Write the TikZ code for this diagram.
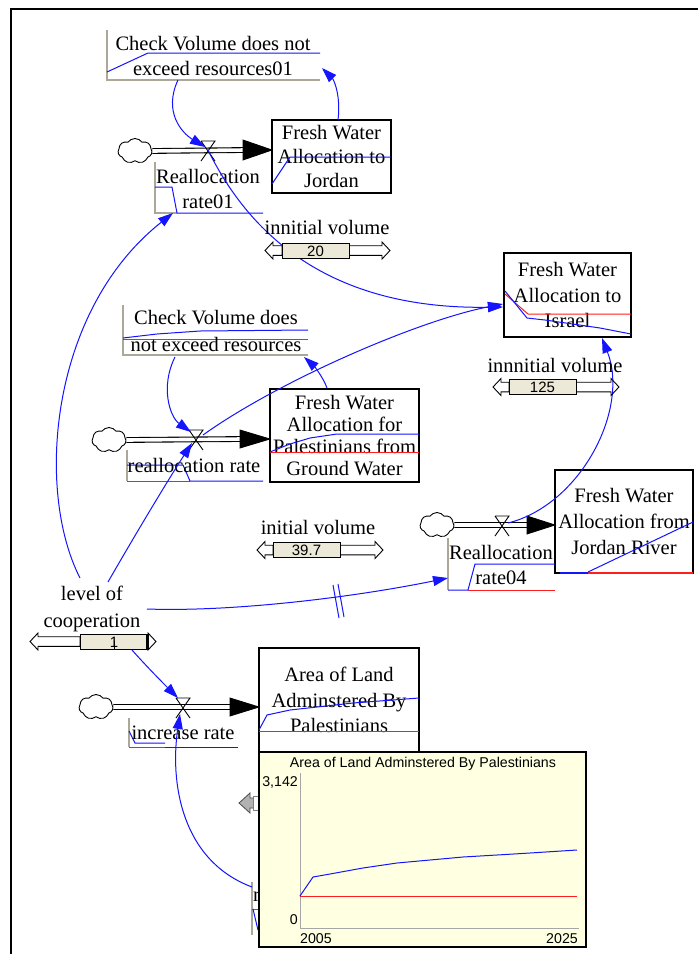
\documentclass[tikz,border=0pt]{standalone}
\usepackage{fontspec}
\setmainfont{Liberation Serif}
\newfontfamily\chartfont{Liberation Sans}
\usetikzlibrary{arrows.meta,shapes.symbols}
\definecolor{lnkblue}{RGB}{20,20,255}
\definecolor{grred}{RGB}{255,30,30}
\definecolor{auxgray}{RGB}{172,168,153}
\definecolor{slfill}{RGB}{236,233,216}
\definecolor{chartbg}{RGB}{255,255,225}
% #1 name, #2 left tip x, #3 bar left, #4 bar right, #5 right tip x, #6 y, #7 value
\newcommand\mkslider[7]{%
  \draw[sliderline] (#2,#6) -- (#2+8,#6-8.5) -- (#2+8,#6-4.8) -- (#3,#6-4.8) -- (#3,#6+4.8) -- (#2+8,#6+4.8) -- (#2+8,#6+8.5) -- cycle;
  \draw[sliderline] (#5,#6) -- (#5-8,#6-8.5) -- (#5-8,#6-4.8) -- (#4,#6-4.8) -- (#4,#6+4.8) -- (#5-8,#6+4.8) -- (#5-8,#6+8.5) -- cycle;
  \draw[sliderline, fill=slfill] (#3,#6-7.5) rectangle (#4,#6+7.5);
  \node[slval] (#1) at ({(#3+#4)/2},#6+0.5) {#7};
}
\begin{document}
\begin{tikzpicture}[x=1pt,y=-1pt,
  lbl/.style={align=center, inner sep=0pt, font=\fontsize{20.5}{25}\selectfont},
  slval/.style={inner sep=0pt, font=\chartfont\fontsize{15}{15}\selectfont},
  chtxt/.style={inner sep=0pt, font=\chartfont\fontsize{14.2}{14}\selectfont},
  link/.style={draw=lnkblue, line width=1pt, -{Triangle[length=15pt,width=10pt]}},
  bgr/.style={draw=lnkblue, line width=1pt},
  rgr/.style={draw=grred, line width=1pt},
  auxedge/.style={draw=auxgray, line width=1.3pt},
  stockbox/.style={draw=black, line width=1.5pt},
  pipe/.style={draw=black, double=white, double distance=3.6pt, line width=1.1pt},
  flowhead/.style={fill=black, draw=black, line width=0.8pt},
  valvesty/.style={draw=black, line width=0.9pt},
  cloudn/.style={cloud, cloud puffs=7, cloud puff arc=110, aspect=1.35, draw=black, line width=0.9pt, minimum width=34pt, minimum height=25pt, inner sep=0pt},
  sliderline/.style={draw=black, line width=0.9pt},
]
\useasboundingbox (0,0) rectangle (700,954);
\fill[white] (0,0) rectangle (700,954);
\draw[line width=2pt] (11,954) -- (11,9) -- (698,9);

% ---------- valves (coordinates)
\coordinate (v1) at (208,150);
\coordinate (v2) at (196,439);
\coordinate (v3) at (183,707);
\coordinate (v4) at (502,525);

% ---------- Check Volume 01
\draw[auxedge] (107,30) -- (107,80) -- (320,80);
\draw[bgr] (107,72) -- (148,53) -- (320,53);
\node[lbl] (cv1) at (213,55.5) {Check Volume does not\\exceed resources01};

% ---------- Reallocation rate01
\draw[auxedge] (155,162) -- (155,213) -- (177,213);
\draw[bgr] (155,187) -- (172,187) -- (177,213) -- (263,213);
\node[lbl] (r01) at (208,188.5) {Reallocation\\rate01};

% ---------- Jordan stock
\node[stockbox, minimum width=119pt, minimum height=73pt, lbl, font=\fontsize{20.5}{24}\selectfont] (jordan) at (331.5,156.5) {Fresh Water\\Allocation to\\Jordan};
\draw[bgr] (272,184) -- (290,157) -- (391,157);

% ---------- flow 1
\node[cloudn] (c1) at (135,151) {};
\coordinate (h1) at (272,150);
\draw[pipe] (c1.east) -- (245,150);
\draw[flowhead] (243,140) -- (h1) -- (243,160) -- cycle;
\draw[valvesty] ([shift={(-7,-9)}]v1) -- ([shift={(7,-9)}]v1) -- ([shift={(-7,11)}]v1) ([shift={(-7,-9)}]v1) -- ([shift={(7,11)}]v1);

% ---------- Israel stock
\node[stockbox, minimum width=127pt, minimum height=84pt, lbl, font=\fontsize{20.5}{25.5}\selectfont] (israel) at (567.5,295) {Fresh Water\\Allocation to\\Israel};
\draw[rgr] (505,294) -- (528,314) -- (631,314);
\draw[bgr] (505,291) -- (527,318) -- (545,320) -- (600,328) -- (631,334);

% ---------- Palestinians stock
\node[stockbox, minimum width=149pt, minimum height=93pt, lbl, font=\fontsize{20.5}{21.7}\selectfont] (pal) at (344.5,435.5) {Fresh Water\\Allocation for\\Palestinians from\\Ground Water};
\draw[rgr] (270,452) -- (419,452);
\draw[bgr] (270,452) -- (290,444) -- (310,438) -- (337,434) -- (419,434);

% ---------- Check Volume 2
\draw[auxedge] (123,305) -- (123,355) -- (308,355);
\draw[rgr] (123,339) -- (308,339);
\draw[bgr] (123,338) -- (157,334) -- (200,331) -- (308,330);
\node[lbl, font=\fontsize{20.5}{27}\selectfont] (cv2) at (216,330.5) {Check Volume does\\not exceed resources};

% ---------- flow 2
\node[cloudn] (c2) at (109,440) {};
\coordinate (h2) at (270,439);
\draw[pipe] (c2.east) -- (242,439);
\draw[flowhead] (240,430) -- (h2) -- (240,448) -- cycle;
\draw[valvesty] ([shift={(-7,-9)}]v2) -- ([shift={(7,-9)}]v2) -- ([shift={(-7,11)}]v2) ([shift={(-7,-9)}]v2) -- ([shift={(7,11)}]v2);

% ---------- reallocation rate
\draw[auxedge] (127,450) -- (127,481);
\draw[rgr] (127,481) -- (190,481);
\draw[bgr] (127,465) -- (183,465) -- (190,481) -- (263,481);
\node[lbl] (rr) at (194,465) {reallocation rate};

% ---------- flow 4
\node[cloudn] (c4) at (437,525) {};
\coordinate (h4) at (555,525);
\draw[pipe] (c4.east) -- (529,525);
\draw[flowhead] (527,516) -- (h4) -- (527,534) -- cycle;
\draw[valvesty] ([shift={(-7,-9)}]v4) -- ([shift={(7,-9)}]v4) -- ([shift={(-7,11)}]v4) ([shift={(-7,-9)}]v4) -- ([shift={(7,11)}]v4);

% ---------- Jordan River stock
\node[stockbox, minimum width=138pt, minimum height=103pt, lbl, font=\fontsize{20.5}{26}\selectfont] (jriv) at (624,521.5) {Fresh Water\\Allocation from\\Jordan River};
\draw[rgr, line width=1.5pt] (560,573) -- (693,573);
\draw[bgr, line width=1.5pt] (560,573) -- (588,573);
\draw[bgr] (588,572) -- (693,522);

% ---------- rate04
\draw[auxedge] (448,538) -- (448,590);
\draw[rgr] (468,590) -- (555,590);
\draw[bgr] (448,590) -- (468,590) -- (475,564) -- (555,564);
\node[lbl] (r04) at (501,564.5) {Reallocation\\rate04};

% ---------- flow 3
\node[cloudn] (c3) at (96,707) {};
\coordinate (h3) at (259,707);
\draw[pipe] (c3.east) -- (232,707);
\draw[flowhead] (230,698) -- (h3) -- (230,716) -- cycle;
\draw[valvesty] ([shift={(-7,-9)}]v3) -- ([shift={(7,-9)}]v3) -- ([shift={(-7,11)}]v3) ([shift={(-7,-9)}]v3) -- ([shift={(7,11)}]v3);

% ---------- Area stock
\node[stockbox, minimum width=160pt, minimum height=104pt, lbl, font=\fontsize{20.5}{25.5}\selectfont] (area) at (339,700) {Area of Land\\Adminstered By\\Palestinians};
\draw[rgr] (259,731) -- (419,731);
\draw[bgr] (259,730) -- (267,715) -- (290,710) -- (353,703) -- (419,698);

% ---------- increase rate
\draw[auxedge] (129,718) -- (129,747);
\draw[rgr] (129,747) -- (165,747);
\draw[bgr] (129,731) -- (135,743) -- (165,743);
\draw[bgr] (165,747) -- (238,747);
\node[lbl] (ir) at (183,733) {increase rate};

% ---------- hidden variable behind chart
\draw[auxedge] (252,882) -- (252,935);
\node[lbl, anchor=west] (hid) at (253,897) {r};
\draw[rgr] (252,909) -- (260,909);
\draw[bgr] (253,909) -- (258,930);

% ---------- links
\coordinate (cv1out) at (178,80);
\coordinate (v1in) at (205,147);
\coordinate (jtop) at (338,120);
\coordinate (cv1in) at (322,68);
\coordinate (isl) at (503,307);
\coordinate (isl2) at (503,304);
\coordinate (isb) at (602,338);
\coordinate (v2out) at (203,435);
\coordinate (cv2out) at (175,357);
\coordinate (v2in) at (191,432);
\coordinate (paltop) at (327,388);
\coordinate (cv2in) at (304,357);
\coordinate (loca) at (80,578);
\coordinate (locb) at (108,582);
\coordinate (locc) at (147,609);
\coordinate (r01in) at (173,213);
\coordinate (v2low) at (192,443);
\coordinate (r04in) at (448,578);
\coordinate (s1out) at (132,650);
\coordinate (v3in) at (178,698);
\coordinate (hidout) at (252,887);
\coordinate (v3low) at (180,714);
\coordinate (v4out) at (508,523);

\draw[link] (cv1out) .. controls (163,112) and (182,133) .. (v1in);
\draw[link] (jtop) .. controls (341,96) and (334,80) .. (cv1in);
\draw[link] (v1) .. controls (245,225) and (320,310) .. (isl);
\draw[link] (v2out) .. controls (280,380) and (420,320) .. (isl2);
\draw[link] (cv2out) .. controls (160,387) and (170,417) .. (v2in);
\draw[link] (paltop) .. controls (323,377) and (314,366) .. (cv2in);
\draw[link] (loca) .. controls (35,490) and (50,310) .. (r01in);
\draw[link] (locb) .. controls (135,535) and (168,480) .. (v2low);
\draw[link] (locc) .. controls (230,612) and (350,598) .. (r04in);
\draw[bgr] (333,585) -- (339,618) (338,584) -- (344,617);
\draw[link] (s1out) .. controls (148,668) and (165,685) .. (v3in);
\draw[link] (hidout) .. controls (180,860) and (170,780) .. (v3low);
\draw[link] (v4out) .. controls (580,505) and (630,410) .. (isb);

% ---------- sliders and their labels
\node[lbl] (iv20) at (327,227) {innitial volume};
\mkslider{s20}{265}{282}{349}{390}{250.5}{20}
\node[lbl] (iv125) at (555,365) {innnitial volume};
\mkslider{s125}{493}{509}{576}{619}{387}{125}
\node[lbl] (iv397) at (318,527) {initial volume};
\mkslider{s397}{257}{273}{340}{383}{550}{39.7}
\node[lbl, font=\fontsize{20.5}{27}\selectfont] (loc) at (92,608.5) {level of\\cooperation};
\mkslider{s1}{30}{80}{148}{156}{641.5}{1}
\draw[line width=2pt] (147,634) -- (147,649);
\draw[line width=1pt] (114,641) -- (114,649);

% ---------- grey slider arrow under chart
\draw[fill=gray!60, draw=black!70, line width=0.8pt] (239,803) -- (250,793) -- (250,798) -- (254,798) -- (254,808) -- (250,808) -- (250,813) -- cycle;
\draw[fill=white, draw=gray, line width=0.8pt] (253,796) rectangle (262,810);

% ---------- chart
\node[draw=black, line width=1.5pt, fill=chartbg, minimum width=327pt, minimum height=195pt, inner sep=0pt] (chart) at (422.5,849.5) {};
\draw[draw=gray!70, line width=1pt] (300,773) -- (300,928) -- (579,928);
\draw[rgr] (300,896) -- (577,896);
\draw[bgr] (300,896) -- (313,877) -- (330,874) -- (363,868) -- (397,863) -- (430,860) -- (463,857) -- (497,855) -- (530,853) -- (577,850);
\node[chtxt] (ctitle) at (423,764) {Area of Land Adminstered By Palestinians};
\node[chtxt, anchor=east] (cymax) at (298,782) {3,142};
\node[chtxt, anchor=east] (cymin) at (298,920) {0};
\node[chtxt] (cx0) at (316,939) {2005};
\node[chtxt] (cx1) at (562,939) {2025};
\end{tikzpicture}
\end{document}
